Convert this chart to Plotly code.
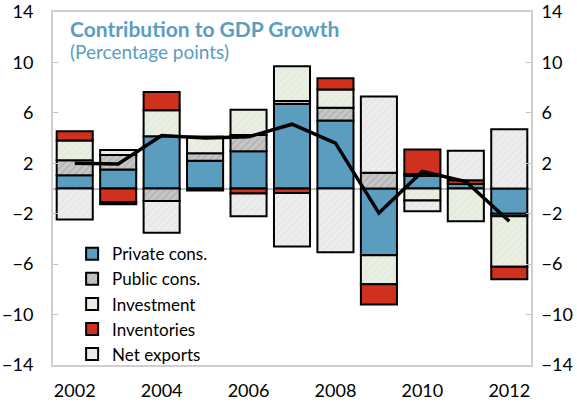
import plotly.graph_objects as go

years = [2002, 2003, 2004, 2005, 2006, 2007, 2008, 2009, 2010, 2011, 2012]
private_cons = [1.05, 1.5, 4.15, 2.2, 2.95, 6.7, 5.4, -5.3, 1.0, 0.35, -2.0]
public_cons = [1.2, 1.15, -1.0, 0.6, 1.3, 0.25, 1.0, 1.25, 0.15, 0.0, -0.2]
investment = [1.55, 0.4, 2.05, 1.3, 2.0, 2.75, 1.45, -2.3, -0.95, -2.6, -4.0]
inventories = [0.75, -1.1, 1.45, 0.0, -0.4, -0.35, 0.9, -1.6, 1.95, 0.3, -1.0]
net_exports = [-2.45, -0.15, -2.5, -0.15, -1.8, -4.25, -5.05, 6.05, -0.85, 2.35, 4.7]
gdp_growth = [2.0, 1.95, 4.2, 4.0, 4.1, 5.1, 3.6, -1.95, 1.35, 0.55, -2.6]

FONT = "Lato"
BLUE = "#5A9DBF"

series = [
    ("Private cons.", private_cons, BLUE, None),
    ("Public cons.", public_cons, "#C6C6C6", "#9C9C9C"),
    ("Investment", investment, "#EAEFE3", "#DCE2D3"),
    ("Inventories", inventories, "#D0301E", None),
    ("Net exports", net_exports, "#EDEDED", "#DEDEDE"),
]

fig = go.Figure()
for name, vals, color, hatch in series:
    marker = dict(color=color, line=dict(color="black", width=2))
    if hatch:
        marker["pattern"] = dict(shape="/", fgcolor=hatch, bgcolor=color, size=5, solidity=0.3)
    fig.add_trace(go.Bar(x=years, y=vals, name=name, marker=marker))

fig.add_trace(go.Scatter(x=years, y=gdp_growth, mode="lines", showlegend=False,
                         line=dict(color="black", width=3.5)))

# invisible trace to carry the right-hand axis
fig.add_trace(go.Scatter(x=years, y=gdp_growth, yaxis="y2", mode="lines",
                         showlegend=False, hoverinfo="skip",
                         line=dict(color="rgba(0,0,0,0)")))

axis_y = dict(range=[-14, 14], tick0=-14, dtick=4, showgrid=False, zeroline=True,
              zerolinecolor="#BFBFBF", zerolinewidth=2, ticks="inside", ticklen=5,
              tickcolor="#BFBFBF", tickfont=dict(family=FONT, size=18, color="black"),
              ticklabelstandoff=14, ticklabeloverflow="allow", automargin=False,
              showline=True, linecolor="#CFCFCF", linewidth=2, layer="above traces")

fig.update_layout(
    width=577, height=411,
    margin=dict(l=53, r=46, t=12, b=46),
    paper_bgcolor="white", plot_bgcolor="white",
    barmode="relative", bargap=0.17,
    font=dict(family=FONT, size=18, color="black"),
    xaxis=dict(range=[2001.5, 2012.5], tickvals=[2002, 2004, 2006, 2008, 2010, 2012],
               showgrid=False, ticks="", showline=True, linecolor="#CFCFCF", linewidth=2,
               mirror=True, automargin=False, ticklabelstandoff=8,
               tickfont=dict(family=FONT, size=18)),
    yaxis=axis_y,
    yaxis2=dict(axis_y, overlaying="y", side="right", zeroline=False, ticklabelstandoff=5),
    legend=dict(x=0.04, y=0.365, xanchor="left", yanchor="top", bgcolor="rgba(0,0,0,0)",
                font=dict(family=FONT, size=17), tracegroupgap=0, itemwidth=30),
    showlegend=True,
)

fig.add_annotation(xref="paper", yref="paper", x=0.031, y=0.995, xanchor="left", yanchor="top",
                   text="<b>Contribution to GDP Growth</b>", showarrow=False,
                   font=dict(family=FONT, size=21, color=BLUE))
fig.add_annotation(xref="paper", yref="paper", x=0.031, y=0.925, xanchor="left", yanchor="top",
                   text="(Percentage points)", showarrow=False,
                   font=dict(family=FONT, size=19, color=BLUE))

# drop the browser's default body margin so the figure sits at the page corner
fig.write_html("out.html", config={"displayModeBar": False},
               post_script="document.body.style.margin='0';")
